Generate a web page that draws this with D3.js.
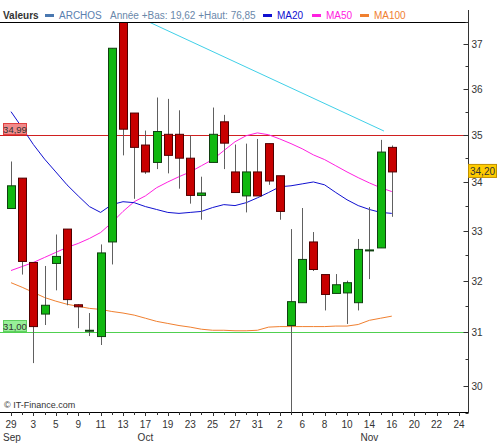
<!DOCTYPE html>
<html>
<head>
<meta charset="utf-8">
<script src="https://cdn.jsdelivr.net/npm/d3@7"></script>
<style>
body { margin: 0; background: #fff; }
svg { display: block; font-family: Arial, "Liberation Sans", sans-serif; }
</style>
</head>
<body>
<div id="chart"></div>
<script>
const W = 500, H = 447;
const plotTop = 22, plotBottom = 412, plotRight = 468;

// one label every second trading day
const dayLabels = ["29", "3", "5", "9", "11", "13", "17", "19", "23", "25", "27", "31", "2", "6", "8", "10", "14", "16", "20", "22", "24"];
const months = ["Sep", "Oct", "Nov"];
const monthIdx = [0, 12, 32];

const open  = [33.45, 34.08, 32.36, 31.35, 32.34, 33.03, 31.53, 31.04, 30.92, 32.77, 37.60, 35.47, 34.78, 34.41, 35.01, 35.01, 34.50, 33.72, 34.41, 35.28, 34.21, 33.71, 34.21, 34.81, 34.13, 31.13, 31.57, 32.77, 32.12, 31.75, 31.76, 31.57, 32.61, 32.65, 34.73];
const close = [33.92, 32.38, 31.11, 31.52, 32.48, 31.63, 31.49, 31.04, 32.55, 36.91, 35.12, 34.73, 34.21, 35.07, 34.56, 34.50, 33.72, 33.77, 35.01, 34.82, 33.78, 34.21, 33.71, 34.02, 33.39, 31.59, 32.42, 32.22, 31.73, 31.92, 31.96, 32.62, 32.61, 34.63, 34.21];
const high  = [34.43, 34.08, 32.36, 32.29, 32.92, 33.03, 31.54, 31.37, 32.72, 36.91, 37.60, 35.47, 35.09, 35.81, 35.78, 35.53, 34.98, 34.11, 35.59, 35.43, 34.79, 34.81, 34.91, 34.81, 34.13, 33.03, 33.46, 32.97, 32.12, 32.13, 32.00, 32.83, 33.48, 34.89, 34.77];
const low   = [33.45, 32.12, 30.42, 31.14, 31.81, 31.52, 31.08, 30.93, 30.76, 32.32, 34.56, 33.65, 34.17, 34.27, 34.18, 33.86, 33.55, 33.22, 34.41, 34.27, 33.78, 33.37, 33.71, 33.94, 33.22, 29.52, 31.57, 32.19, 31.42, 31.75, 31.16, 31.42, 32.03, 32.65, 33.28];

const ma20  = [35.50, 35.15, 34.79, 34.48, 34.21, 33.94, 33.71, 33.49, 33.37, 33.53, 33.59, 33.57, 33.49, 33.43, 33.37, 33.35, 33.37, 33.39, 33.47, 33.53, 33.51, 33.57, 33.67, 33.78, 33.90, 33.92, 33.96, 34.00, 33.94, 33.78, 33.63, 33.51, 33.43, 33.37, 33.35];
const ma50  = [32.20, 32.28, 32.36, 32.46, 32.56, 32.66, 32.74, 32.84, 32.96, 33.16, 33.39, 33.59, 33.71, 33.88, 34.00, 34.11, 34.21, 34.34, 34.47, 34.66, 34.85, 34.98, 35.04, 35.00, 34.91, 34.81, 34.70, 34.57, 34.47, 34.34, 34.21, 34.09, 33.98, 33.88, 33.80];
const ma100 = [31.96, 31.87, 31.77, 31.67, 31.60, 31.54, 31.50, 31.46, 31.44, 31.40, 31.37, 31.33, 31.27, 31.21, 31.17, 31.13, 31.10, 31.06, 31.04, 31.04, 31.03, 31.03, 31.04, 31.10, 31.11, 31.11, 31.11, 31.11, 31.11, 31.12, 31.12, 31.15, 31.23, 31.27, 31.31];

const trendIdx = [12.4, 33.3];
const trendVal = [37.50, 35.08];

const levels = [34.99, 31.00];
const levelLabels = ["34,99", "31,00"];
const lastLabel = "34,20";

const yTicks = [30, 31, 32, 33, 34, 35, 36, 37];
const yMinor = [29.5, 30.5, 31.5, 32.5, 33.5, 34.5, 35.5, 36.5, 37.5];

const legendItems = ["MA20", "MA50", "MA100"];
const legendColors = ["#1010d0", "#ff20e0", "#f08030"];

let x = d3.scaleLinear().domain([0, 40]).range([11, 459]);
let y = d3.scaleLog().domain([29.52, 37.51]).range([plotBottom, plotTop]);

let svg = d3.select("#chart").append("svg")
	.attr("width", W)
	.attr("height", H);

svg.append("defs").append("clipPath")
	.attr("id", "plot")
	.append("rect")
	.attr("x", 0)
	.attr("y", plotTop)
	.attr("width", plotRight)
	.attr("height", plotBottom - plotTop);

let idx = d3.range(open.length);

// level lines
svg.selectAll("line.level")
	.data(levels)
	.enter().append("line")
	.attr("class", "level")
	.attr("x1", 0)
	.attr("x2", plotRight)
	.attr("y1", d => Math.round(y(d)) + 0.5)
	.attr("y2", d => Math.round(y(d)) + 0.5)
	.attr("stroke", (d, i) => i === 0 ? "#d02020" : "#50d050")
	.attr("stroke-width", 1);

// moving averages
let maLine = function(data, color) {
	svg.append("path")
		.datum(data)
		.attr("clip-path", "url(#plot)")
		.attr("fill", "none")
		.attr("stroke", color)
		.attr("stroke-width", 1)
		.attr("d", d3.line().x((d, i) => x(i)).y(d => y(d)));
}
maLine(ma100, legendColors[2]);
maLine(ma50, legendColors[1]);
maLine(ma20, legendColors[0]);

// trend line
svg.append("line")
	.attr("x1", x(trendIdx[0]))
	.attr("y1", y(trendVal[0]))
	.attr("x2", x(trendIdx[1]))
	.attr("y2", y(trendVal[1]))
	.attr("stroke", "#40d0e8")
	.attr("stroke-width", 1);

// candles
let candles = svg.append("g").attr("clip-path", "url(#plot)");

candles.selectAll("line.wick")
	.data(idx)
	.enter().append("line")
	.attr("class", "wick")
	.attr("x1", i => Math.round(x(i)) + 0.5)
	.attr("x2", i => Math.round(x(i)) + 0.5)
	.attr("y1", i => y(high[i]))
	.attr("y2", i => y(low[i]))
	.attr("stroke", "#606060")
	.attr("stroke-width", 1);

candles.selectAll("rect.body")
	.data(idx)
	.enter().append("rect")
	.attr("class", "body")
	.attr("x", i => Math.round(x(i)) - 3.5)
	.attr("width", 8)
	.attr("y", i => y(Math.max(open[i], close[i])))
	.attr("height", i => Math.max(1, y(Math.min(open[i], close[i])) - y(Math.max(open[i], close[i]))))
	.attr("fill", i => close[i] >= open[i] ? "#10b810" : "#c80000")
	.attr("stroke", i => close[i] >= open[i] ? "#104010" : "#500000")
	.attr("stroke-width", 1);

// level labels on the left
levels.forEach(function(v, i) {
	let yy = Math.round(y(v));
	svg.append("rect")
		.attr("x", 3.5)
		.attr("y", yy - 11.5)
		.attr("width", 23)
		.attr("height", 11)
		.attr("fill", i === 0 ? "#f08a8a" : "#98f098")
		.attr("stroke", i === 0 ? "#e04040" : "#60d060");
	svg.append("text")
		.attr("x", 15)
		.attr("y", yy - 2.5)
		.attr("text-anchor", "middle")
		.attr("font-size", 9.5)
		.attr("fill", "#333")
		.text(levelLabels[i]);
});

// frame
svg.append("line")
	.attr("x1", 0).attr("x2", plotRight)
	.attr("y1", plotTop + 0.5).attr("y2", plotTop + 0.5)
	.attr("stroke", "#000");

// right axis
let yAxis = svg.append("g")
	.attr("transform", "translate(" + (plotRight + 0.5) + ",0)");
yAxis.append("line")
	.attr("y1", 10).attr("y2", plotBottom + 1)
	.attr("stroke", "#333");
yAxis.selectAll("line.maj")
	.data(yTicks)
	.enter().append("line")
	.attr("x1", -5).attr("x2", 0)
	.attr("y1", d => Math.round(y(d)) + 0.5)
	.attr("y2", d => Math.round(y(d)) + 0.5)
	.attr("stroke", "#333");
yAxis.selectAll("line.min")
	.data(yMinor)
	.enter().append("line")
	.attr("x1", -3).attr("x2", 0)
	.attr("y1", d => Math.round(y(d)) + 0.5)
	.attr("y2", d => Math.round(y(d)) + 0.5)
	.attr("stroke", "#333");
yAxis.selectAll("text")
	.data(yTicks)
	.enter().append("text")
	.attr("x", 3)
	.attr("y", d => y(d) + 4)
	.attr("font-size", 10)
	.attr("fill", "#333")
	.text(d => d);

// last price tag
let lastY = y(close[close.length - 1]);
svg.append("rect")
	.attr("x", plotRight + 0.5)
	.attr("y", lastY - 7.5)
	.attr("width", 28)
	.attr("height", 13)
	.attr("fill", "#ffcc00")
	.attr("stroke", "#c09000");
svg.append("text")
	.attr("x", plotRight + 14.5)
	.attr("y", lastY + 3)
	.attr("text-anchor", "middle")
	.attr("font-size", 10)
	.attr("fill", "#333")
	.text(lastLabel);

// bottom axis
let xAxis = svg.append("g");
xAxis.append("line")
	.attr("x1", 0).attr("x2", plotRight)
	.attr("y1", plotBottom + 0.5).attr("y2", plotBottom + 0.5)
	.attr("stroke", "#000");
xAxis.selectAll("line.tick")
	.data(d3.range(0, 41))
	.enter().append("line")
	.attr("x1", i => Math.round(x(i)) + 0.5)
	.attr("x2", i => Math.round(x(i)) + 0.5)
	.attr("y1", plotBottom)
	.attr("y2", i => plotBottom + (i % 2 === 0 ? 4 : 3))
	.attr("stroke", "#333");
xAxis.selectAll("text.day")
	.data(dayLabels)
	.enter().append("text")
	.attr("class", "day")
	.attr("x", (d, i) => x(i * 2))
	.attr("y", 428)
	.attr("text-anchor", "middle")
	.attr("font-size", 10)
	.attr("fill", "#333")
	.text(d => d);
xAxis.selectAll("text.month")
	.data(months)
	.enter().append("text")
	.attr("class", "month")
	.attr("x", (d, i) => i === 0 ? 3 : x(monthIdx[i]))
	.attr("y", 441)
	.attr("text-anchor", (d, i) => i === 0 ? "start" : "middle")
	.attr("font-size", 10)
	.attr("fill", "#333")
	.text(d => d);

svg.append("text")
	.attr("x", 4)
	.attr("y", 408)
	.attr("font-size", 9)
	.attr("fill", "#333")
	.text("\u00a9 IT-Finance.com");

// legend
let legend = svg.append("g").attr("font-size", 10);
legend.append("text")
	.attr("x", 3).attr("y", 19)
	.attr("font-weight", "bold")
	.attr("fill", "#333")
	.text("Valeurs");
legend.append("rect")
	.attr("x", 45).attr("y", 14).attr("width", 9).attr("height", 3)
	.attr("fill", "#4a78b0");
legend.append("text")
	.attr("x", 59).attr("y", 19)
	.attr("fill", "#5a80b0")
	.text("ARCHOS");
legend.append("text")
	.attr("x", 110).attr("y", 19)
	.attr("fill", "#6a88aa")
	.text("Ann\u00e9e +Bas: 19,62 +Haut: 76,85");
legend.selectAll("g.ma")
	.data(legendItems)
	.enter().append("g")
	.attr("transform", (d, i) => "translate(" + [263, 312, 360][i] + ",0)")
	.each(function(d, i) {
		d3.select(this).append("rect")
			.attr("x", 0).attr("y", 14).attr("width", 9).attr("height", 3)
			.attr("fill", legendColors[i]);
		d3.select(this).append("text")
			.attr("x", 14).attr("y", 19)
			.attr("fill", legendColors[i])
			.text(d);
	});
</script>
</body>
</html>
